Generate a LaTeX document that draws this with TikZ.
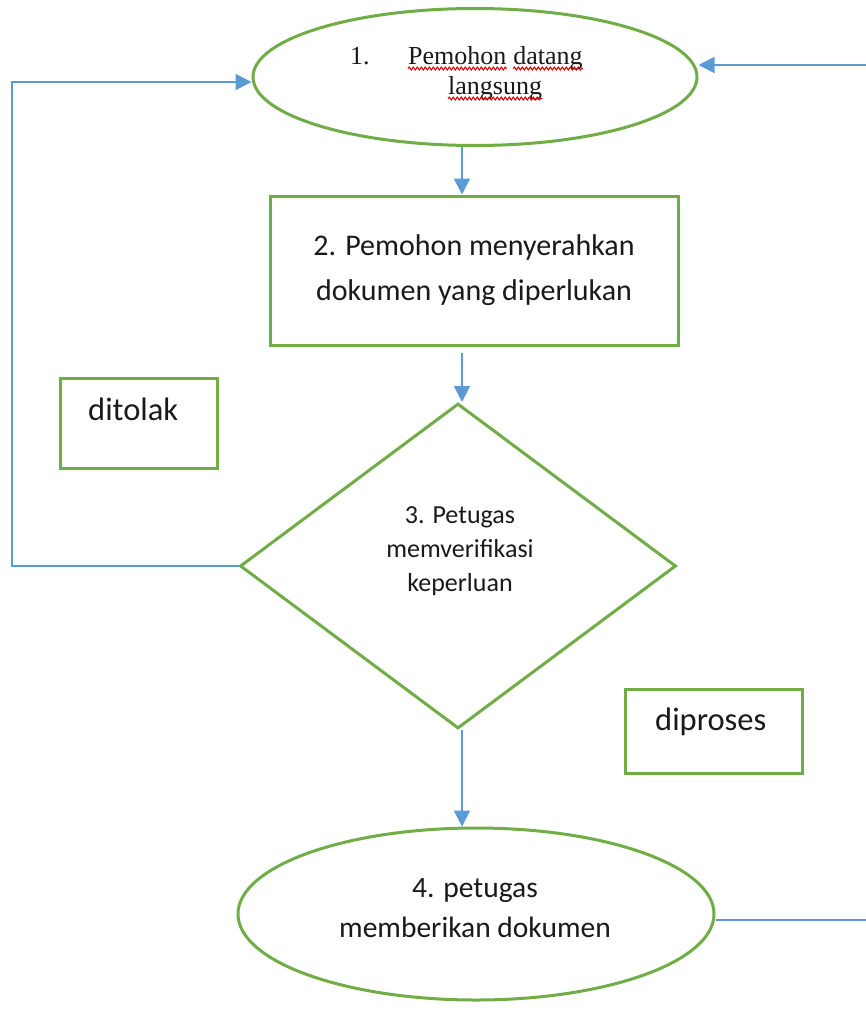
\documentclass[tikz,border=0pt]{standalone}
\usepackage{fontspec}
\setmainfont{Carlito}
\newfontfamily\tnr{Liberation Serif}
\usetikzlibrary{shapes.geometric,arrows.meta,calc,decorations.pathmorphing}
\definecolor{grn}{HTML}{70AD47}
\definecolor{blu}{HTML}{5B9BD5}
\definecolor{txt}{HTML}{1A1A1A}
\begin{document}
\begin{tikzpicture}[x=1pt,y=-1pt,
  shapebox/.style={draw=grn,line width=3pt,fill=white,inner sep=0pt},
  ell/.style={shapebox,ellipse},
  rect/.style={shapebox,rectangle},
  dia/.style={shapebox,diamond},
  arr/.style={draw=blu,line width=1.8pt,-{Triangle[width=16pt,length=16pt]}},
  conn/.style={draw=blu,line width=1.8pt},
  lbl/.style={inner sep=0pt,text=txt},
  serif/.style={lbl,anchor=base west,font=\tnr\fontsize{26}{32}\selectfont},
  wavy/.style={draw=red!85!black,line width=1.1pt,decorate,decoration={snake,segment length=4pt,amplitude=1.4pt}}
]
\useasboundingbox (0,0) rectangle (866,1010);

% shapes
\node[ell,minimum width=444pt,minimum height=137pt] (e1) at (475,77) {};
\node[rect,minimum width=408pt,minimum height=149pt,align=center,text=txt,
      font=\fontsize{30}{45}\selectfont] (b2) at (474,270.5)
      {2. Pemohon menyerahkan\\dokumen yang diperlukan};
\node[dia,minimum width=436pt,minimum height=325pt] (d3) at (458,566) {};
\node[ell,minimum width=476pt,minimum height=172pt] (e4) at (476,914) {};
\node[rect,minimum width=157pt,minimum height=90pt] (rej) at (138.5,423) {};
\node[rect,minimum width=177pt,minimum height=84pt] (acc) at (713.5,731) {};

% texts
\node[serif] (n1) at (350,64) {1.};
\node[serif] (w1) at (408,64) {Pemohon};
\node[serif] (w2) at ($(w1.base east)+(6.5,0)$) {datang};
\node[serif] (w3) at (448,94) {langsung};
\draw[wavy] ($(w1.base west)+(0,4.5)$) -- ($(w1.base east)+(0,4.5)$);
\draw[wavy] ($(w2.base west)+(0,4.5)$) -- ($(w2.base east)+(0,4.5)$);
\draw[wavy] ($(w3.base west)+(0,4.5)$) -- ($(w3.base east)+(0,4.5)$);

\node[lbl,align=center,font=\fontsize{26}{34}\selectfont] (d3t) at (460,551)
      {3. Petugas\\memverifikasi\\keperluan};
\node[lbl,align=center,font=\fontsize{29.5}{40}\selectfont] (e4t) at (475,908)
      {4. petugas\\memberikan dokumen};
\node[lbl,anchor=base west,font=\fontsize{32.5}{39}\selectfont] (rejt) at (88,420) {ditolak};
\node[lbl,anchor=base west,font=\fontsize{32.5}{39}\selectfont] (acct) at (655,730) {diproses};

% connectors
\coordinate (ax) at (462,0);
\coordinate (lx) at (12,0);
\coordinate (rr) at (866,65);
\coordinate (rb) at (866,920);
\draw[arr] (e1.south -| ax) -- (b2.north -| ax);
\draw[arr] ($(b2.south -| ax)+(0,6)$) -- (d3.north -| ax);
\draw[arr] (d3.south -| ax) -- (e4.north -| ax);
\draw[arr] (d3.west) -- (d3.west -| lx) |- ($(e1.west)+(0,5)$);
\draw[arr] (rr) -- (e1.east |- rr);
\draw[conn] (e4.east |- rb) -- (rb);
\end{tikzpicture}
\end{document}
